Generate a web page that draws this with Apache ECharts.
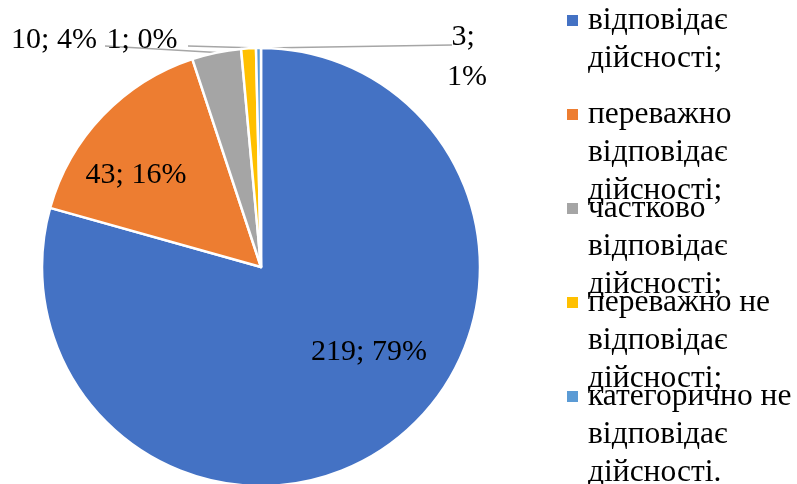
<!DOCTYPE html>
<html><head><meta charset="utf-8">
<script src="https://cdn.jsdelivr.net/npm/echarts@6/dist/echarts.min.js"></script>
<style>html,body{margin:0;padding:0;background:#fff}#c{width:797px;height:484px}</style>
</head><body><div id="c"></div>
<script>
// ---- data ----
const categories = [
  'відповідає дійсності;',
  'переважно відповідає дійсності;',
  'частково відповідає дійсності;',
  'переважно не відповідає дійсності;',
  'категорично не відповідає дійсності.'
];
const counts = [219, 43, 10, 3, 1];
const colors = ['#4472C4', '#ED7D31', '#A5A5A5', '#FFC000', '#5B9BD5'];

// ---- layout / style ----
const FONT = '"Liberation Serif", "Times New Roman", serif';
const insideIdx = [0, 1];
const wrapIdx = [3];
const labelPos = [
  {x: 369, y: 352},
  {x: 136, y: 175},
  {x: 54, y: 40, lx: 105, ly: 46},
  {x: 467, y: 57, lx: 452, ly: 45},
  {x: 142, y: 40, lx: 188, ly: 46}
];
const legendIcon = 'path://M0,0L16,0M0,13.5L11,13.5L11,24.5L0,24.5ZM0,114L16,114';

const chart = echarts.init(document.getElementById('c'), null, {renderer: 'canvas'});
chart.setOption({
  animation: false,
  backgroundColor: '#fff',
  legend: {
    orient: 'vertical', left: 567, top: 1.5, padding: 0, height: 1000,
    itemGap: -20, itemWidth: 16, itemHeight: 114, icon: legendIcon,
    itemStyle: {borderWidth: 0},
    selectedMode: false,
    textStyle: {fontFamily: FONT, fontSize: 31.5, lineHeight: 38, color: '#000'},
    formatter: function (name) {
      const s = name.replace(' відповідає', '\nвідповідає').replace(' дійсності', '\nдійсності');
      return s.split('\n').length < 3 ? s + '\n ' : s;
    },
    data: categories
  },
  series: [{
    type: 'pie',
    center: [261, 267],
    radius: 219,
    startAngle: 90,
    clockwise: true,
    avoidLabelOverlap: false,
    itemStyle: {borderColor: '#fff', borderWidth: 2.5},
    label: {
      fontFamily: FONT, fontSize: 30, color: '#000', lineHeight: 40,
      formatter: function (p) { return p.value + '; ' + Math.round(p.percent) + '%'; }
    },
    labelLine: {lineStyle: {color: '#A6A6A6', width: 1.5}},
    labelLayout: function (p) {
      const q = labelPos[p.dataIndex];
      const o = {x: q.x, y: q.y, align: 'center', verticalAlign: 'middle'};
      if (q.lx != null && p.labelLinePoints) {
        o.labelLinePoints = [p.labelLinePoints[0], [q.lx, q.ly]];
      }
      return o;
    },
    data: categories.map(function (n, i) {
      const inside = insideIdx.indexOf(i) >= 0;
      const lab = {position: inside ? 'inside' : 'outside'};
      if (wrapIdx.indexOf(i) >= 0) { lab.width = 45; lab.overflow = 'break'; lab.align = 'center'; }
      return {
        name: n, value: counts[i],
        itemStyle: {color: colors[i]},
        label: lab,
        labelLine: {show: !inside}
      };
    })
  }]
});
</script>
</body></html>
